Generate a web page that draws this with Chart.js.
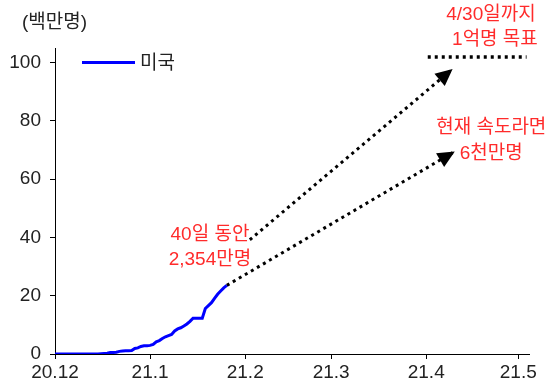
<!DOCTYPE html>
<html lang="ko">
<head>
<meta charset="utf-8">
<script src="https://cdn.jsdelivr.net/npm/chart.js@4.4.1/dist/chart.umd.min.js"></script>
<style>
  html, body { margin: 0; padding: 0; background: #fff; }
  #wrap { width: 551px; height: 383px; }
</style>
</head>
<body>
<div id="wrap"><canvas id="c" width="551" height="383"></canvas></div>
<script>
// Days counted from 2020-12-01 (day 0); cumulative US vaccine doses, millions.
const days = [];
for (let d = 0; d <= 56; d++) days.push(d);
const usDoses = [
  0, 0, 0, 0, 0, 0, 0, 0, 0, 0, 0, 0, 0, 0, 0,      // Dec 1 - 15
  0.1, 0.2, 0.3, 0.5, 0.55, 0.6, 0.9, 1.0, 1.1, 1.1, // Dec 16 - 25
  1.2, 1.9, 2.1, 2.6, 2.8, 2.8,                       // Dec 26 - 31
  2.95, 3.3, 4.2, 4.6, 5.3, 5.9, 6.3, 6.7, 7.9, 8.6, // Jan 1 - 10
  9.0, 9.6, 10.3, 11.2, 12.3, 12.3, 12.3, 12.3,       // Jan 11 - 18
  15.6, 16.6, 17.6, 19.1, 20.5, 21.6, 22.7, 23.54     // Jan 19 - 26
];

// Projection arrows and the goal line (day, millions)
const goalArrowX = [63.5, 129.6];
const goalArrowY = [39.2, 97.8];
const paceArrowX = [56, 130.3];
const paceArrowY = [23.54, 69.5];
const goalLineX = [121.5, 153.7];
const goalLineY = [101.9, 101.9];

// Axis ticks
const xTickDays = [0, 31, 62, 90, 121, 151];
const xTickLabels = ['20.12', '21.1', '21.2', '21.3', '21.4', '21.5'];
const yTickValues = [0, 20, 40, 60, 80, 100];

const seriesName = '미국';
const unitLabel = '(백만명)';

// Callout texts anchored at (day, millions)
const notes = [
  { text: '40일 동안', x: 50.5, y: 40.9 },
  { text: '2,354만명', x: 50.5, y: 32.3 },
  { text: '4/30일까지', x: 142.1, y: 116.4 },
  { text: '1억명 목표', x: 143.4, y: 107.8 },
  { text: '현재 속도라면', x: 142.2, y: 77.6 },
  { text: '6천만명', x: 142.2, y: 68.7 }
];

const FONT = '"Liberation Sans", "Noto Sans CJK KR", sans-serif';
const RED = '#ff2b2b';
const INK = '#222';

const pts = (xs, ys) => xs.map((x, i) => ({ x: x, y: ys[i] }));

const arrowHeads = {
  id: 'arrowHeads',
  afterDatasetsDraw(chart) {
    const ctx = chart.ctx;
    chart.data.datasets.forEach((ds, i) => {
      if (!ds.arrow) return;
      const pts = chart.getDatasetMeta(i).data;
      const a = pts[pts.length - 2], b = pts[pts.length - 1];
      const ang = Math.atan2(b.y - a.y, b.x - a.x);
      const len = 17, hw = 8;
      ctx.save();
      ctx.translate(b.x, b.y);
      ctx.rotate(ang);
      ctx.fillStyle = '#000';
      ctx.beginPath();
      ctx.moveTo(0, 0);
      ctx.lineTo(-len, -hw);
      ctx.lineTo(-len, hw);
      ctx.closePath();
      ctx.fill();
      ctx.restore();
    });
  }
};

const extras = {
  id: 'extras',
  afterDraw(chart) {
    const ctx = chart.ctx;
    const xs = chart.scales.x, ys = chart.scales.y;
    ctx.save();
    // unit label
    ctx.font = '19px ' + FONT;
    ctx.fillStyle = INK;
    ctx.textAlign = 'left';
    ctx.textBaseline = 'middle';
    ctx.fillText(unitLabel, 22, 23);
    // legend
    const ds = chart.data.datasets[0];
    const ly = ys.getPixelForValue(100);
    ctx.strokeStyle = ds.borderColor;
    ctx.lineWidth = 3;
    ctx.beginPath();
    ctx.moveTo(82, ly);
    ctx.lineTo(135, ly);
    ctx.stroke();
    ctx.fillText(ds.label, 140, ly + 1);
    // callouts
    ctx.fillStyle = RED;
    ctx.textAlign = 'center';
    notes.forEach(n => {
      ctx.fillText(n.text, xs.getPixelForValue(n.x), ys.getPixelForValue(n.y));
    });
    ctx.restore();
  }
};

new Chart(document.getElementById('c'), {
  type: 'line',
  data: {
    datasets: [
      {
        label: seriesName,
        data: pts(days, usDoses),
        borderColor: '#0000ff',
        borderWidth: 3,
        pointRadius: 0,
        tension: 0
      },
      {
        label: 'goal',
        data: pts(goalArrowX, goalArrowY),
        borderColor: '#000',
        borderWidth: 3,
        borderDash: [3, 4],
        pointRadius: 0,
        arrow: true
      },
      {
        label: 'pace',
        data: pts(paceArrowX, paceArrowY),
        borderColor: '#000',
        borderWidth: 3,
        borderDash: [3, 4],
        pointRadius: 0,
        arrow: true
      },
      {
        label: 'target',
        data: pts(goalLineX, goalLineY),
        borderColor: '#000',
        borderWidth: 3.5,
        borderDash: [3, 4],
        pointRadius: 0
      }
    ]
  },
  options: {
    responsive: false,
    animation: false,
    events: [],
    layout: { padding: { top: 48, right: 22, left: 0, bottom: 0 } },
    plugins: {
      legend: { display: false },
      tooltip: { enabled: false }
    },
    scales: {
      x: {
        type: 'linear',
        min: 0,
        max: 154.5,
        afterBuildTicks: s => { s.ticks = xTickDays.map(v => ({ value: v })); },
        afterFit: s => { s.height = 29; },
        ticks: {
          autoSkip: false,
          maxRotation: 0,
          padding: 2,
          color: INK,
          font: { family: FONT, size: 19 },
          callback: (v) => xTickLabels[xTickDays.indexOf(v)]
        },
        grid: { drawOnChartArea: false, tickLength: 5, color: '#000' },
        border: { color: '#000', width: 1 }
      },
      y: {
        min: 0,
        max: 105,
        afterBuildTicks: s => { s.ticks = yTickValues.map(v => ({ value: v })); },
        afterFit: s => { s.width = 55; },
        ticks: {
          padding: 9,
          color: INK,
          font: { family: FONT, size: 19 }
        },
        grid: { drawOnChartArea: false, tickLength: 5, color: '#000' },
        border: { color: '#000', width: 1 }
      }
    }
  },
  plugins: [arrowHeads, extras]
});
</script>
</body>
</html>
